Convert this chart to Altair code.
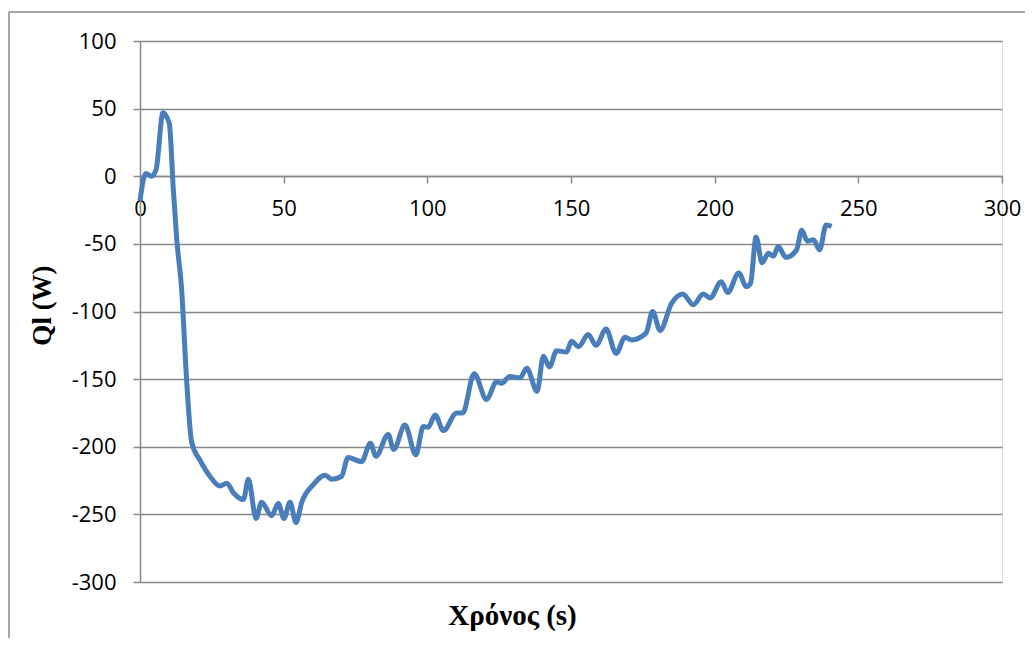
import altair as alt
import pandas as pd

time_s = [0, 2, 4, 5.6, 8, 10.2, 11.6, 12.8, 14.5, 16.2, 18, 20.9, 24.4, 27.8, 30.2, 32.5,
          36, 37.7, 40.4, 42.3, 45.8, 48.1, 50.1, 52.2, 54.3, 56.3, 60.3, 64.4, 66.7, 70.1,
          72.4, 77.1, 80.2, 82.1, 86.4, 88.3, 92.2, 96, 98.6, 100.3, 102.7, 105.6, 110.2,
          112.3, 116.3, 120.6, 124.1, 125.8, 128.7, 132.3, 134.6, 138.2, 140.4, 142.5, 145,
          148.4, 150.2, 152.6, 156, 158.7, 162.2, 165.7, 168.8, 171.1, 176.1, 178.4, 181,
          185, 188.9, 192.6, 196, 198.4, 202.3, 204.5, 208.4, 211, 212.5, 214.4, 216.5,
          218.7, 220.5, 222.1, 224.8, 228.5, 230.3, 232.3, 234.4, 236.5, 238.8, 240.7]
ql_w = [-18, 2, 0, 5, 47, 39, -10, -47, -84, -150, -197, -210, -222, -229, -227, -234,
        -239, -224, -253, -241, -251, -242, -253, -241, -256, -241, -228, -221, -224, -222,
        -208, -211, -197.5, -207, -191, -202, -184, -206, -185, -185.6, -176.5, -188, -175,
        -175, -146, -165, -152, -153, -148, -149, -142, -159, -133, -141, -129,
        -130, -122, -126, -117, -125, -113, -131, -119, -121, -116, -100, -114,
        -94, -87, -95, -87, -90, -78, -86, -71.5, -81.6, -79, -45, -64,
        -57, -59, -52, -60, -54.5, -40, -48, -47, -54.5, -36, -37]

x_ticks = [0, 50, 100, 150, 200, 250, 300]
y_ticks = [-300, -250, -200, -150, -100, -50, 0, 50, 100]

df = pd.DataFrame({"t": time_s, "q": ql_w})

W, H = 862, 541
GRID = "#888888"

line = alt.Chart(df).mark_line(
    color="#4A7EBB", strokeWidth=5, interpolate="monotone"
).encode(
    x=alt.X("t:Q",
            scale=alt.Scale(domain=[0, 300], nice=False, zero=False),
            axis=alt.Axis(values=x_ticks, orient="bottom", offset=-406, grid=False,
                          domainColor=GRID, domainWidth=1.5, tickColor=GRID, tickWidth=1.5,
                          tickSize=7, labelFont="Open Sans", labelFontSize=22,
                          labelColor="black", labelPadding=15, labelBaseline="top",
                          labelExpr="'' + datum.value",
                          title="Χρόνος (s)", titleFont="Liberation Serif",
                          titleFontSize=29, titleFontWeight="bold", titleColor="black",
                          titleX=372, titleY=439, titleBaseline="middle",
                          titleAnchor="middle", labelFlush=False)),
    y=alt.Y("q:Q",
            scale=alt.Scale(domain=[-300, 100], nice=False, zero=False),
            axis=alt.Axis(values=y_ticks, grid=True, gridColor=GRID, gridWidth=1.5,
                          domainColor=GRID, domainWidth=1.5, tickColor=GRID, tickWidth=1.5,
                          tickSize=7, labelFont="Open Sans", labelFontSize=22,
                          labelColor="black", labelPadding=17,
                          labelExpr="'' + datum.value",
                          title="Ql (W)", titleFont="Liberation Serif",
                          titleFontSize=27, titleFontWeight="bold", titleColor="black",
                          titleX=-98, titleY=264, titleBaseline="middle",
                          titleAngle=-90, titleAnchor="middle", labelFlush=False)),
)

frame_df = pd.DataFrame({"a": [0]})
top_rule = alt.Chart(frame_df).mark_rule(color="#8a8a8a", strokeWidth=1.5).encode(
    x=alt.value(-131), x2=alt.value(W + 23), y=alt.value(-29)
)
left_rule = alt.Chart(frame_df).mark_rule(color="#8a8a8a", strokeWidth=1.5).encode(
    x=alt.value(-131), y=alt.value(-29), y2=alt.value(H + 56)
)

chart = alt.layer(line, top_rule, left_rule).properties(
    width=W, height=H,
    autosize=alt.AutoSizeParams(type="none"),
    padding={"left": 132, "top": 33, "right": 23, "bottom": 56},
).configure_view(strokeWidth=0).configure(background="white")

chart.save("out.html", embed_options={"renderer": "svg", "actions": False})
